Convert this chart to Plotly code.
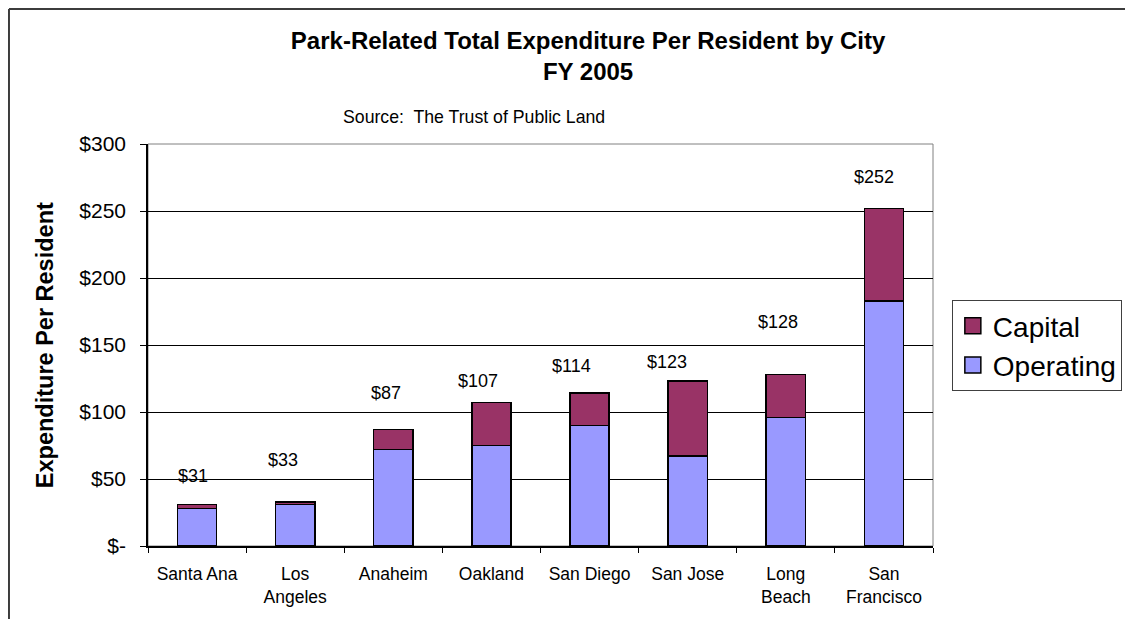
import plotly.graph_objects as go

cities = ["Santa Ana", "Los<br>Angeles", "Anaheim", "Oakland", "San Diego", "San Jose", "Long<br>Beach", "San<br>Francisco"]
operating = [28, 31, 72, 75, 90, 67, 96, 183]
capital = [3, 2, 15, 32, 24, 56, 32, 69]
totals = [31, 33, 87, 107, 114, 123, 128, 252]
y_ticks = [0, 50, 100, 150, 200, 250, 300]
y_tick_labels = ["$-", "$50", "$100", "$150", "$200", "$250", "$300"]

# label offsets in pixels (style only)
label_dx = [-4, -12, -7, -13, -18, -21, -8, -10]
label_dy = [28, 42, 36, 22, 27, 19, 52, 31]

OP_COLOR = "#9999FF"
CAP_COLOR = "#993366"
FONT = "Arial, Liberation Sans, sans-serif"

fig = go.Figure()
fig.add_trace(go.Bar(x=cities, y=operating, name="Operating", marker=dict(color=OP_COLOR, line=dict(color="black", width=1.5)), showlegend=False))
fig.add_trace(go.Bar(x=cities, y=capital, name="Capital", marker=dict(color=CAP_COLOR, line=dict(color="black", width=1.5)), showlegend=False))
# legend entries
fig.add_trace(go.Scatter(x=[None], y=[None], mode="markers", name="Capital",
                         marker=dict(symbol="square", size=16, color=CAP_COLOR, line=dict(color="black", width=1.5)), legendgroup="a"))
fig.add_trace(go.Scatter(x=[None], y=[None], mode="markers", name="Operating",
                         marker=dict(symbol="square", size=16, color=OP_COLOR, line=dict(color="black", width=1.5)), legendgroup="b"))

annotations = []
for c, t, dx, dy in zip(cities, totals, label_dx, label_dy):
    annotations.append(dict(x=c, y=t, xref="x", yref="y", text=f"${t}", showarrow=False,
                            xshift=dx, yshift=dy, xanchor="center", yanchor="middle",
                            font=dict(family=FONT, size=18, color="black")))
annotations.append(dict(x=0.415, y=1.067, xref="paper", yref="paper", text="Source:  The Trust of Public Land",
                        showarrow=False, xanchor="center", yanchor="middle",
                        font=dict(family=FONT, size=17.7, color="black")))
annotations.append(dict(x=-0.131, y=0.5, xref="paper", yref="paper", text="<b>Expenditure Per Resident</b>",
                        textangle=-90, showarrow=False, xanchor="center", yanchor="middle",
                        font=dict(family=FONT, size=23.5, color="black")))

fig.update_layout(
    width=1117, height=611,
    margin=dict(l=140, r=192, t=136, b=73, autoexpand=False),
    paper_bgcolor="white", plot_bgcolor="white",
    barmode="stack", bargap=0.6,
    font=dict(family=FONT, color="black"),
    title=dict(text="<b>Park-Related Total Expenditure Per Resident by City<br>FY 2005</b>",
               x=0.5193, xanchor="center", y=0.933, yanchor="middle",
               font=dict(family=FONT, size=24, color="black")),
    legend=dict(x=1.024, y=0.612, xanchor="left", yanchor="top", traceorder="normal",
                bordercolor="#404040", borderwidth=1, bgcolor="white",
                font=dict(family=FONT, size=28, color="black"), tracegroupgap=3),
    annotations=annotations,
    shapes=[
        dict(type="rect", xref="paper", yref="paper", x0=0, x1=1, y0=0, y1=1,
             line=dict(color="#808080", width=1), layer="below"),
        dict(type="line", xref="paper", yref="paper", x0=-0.1771, x1=1.3, y0=1.3358, y1=1.3358,
             line=dict(color="#3c3c3c", width=2)),
        dict(type="line", xref="paper", yref="paper", x0=-0.1771, x1=-0.1771, y0=-0.3, y1=1.3358,
             line=dict(color="#3c3c3c", width=2)),
    ],
)
fig.update_yaxes(range=[0, 300], tickvals=y_ticks, ticktext=y_tick_labels,
                 showgrid=True, gridcolor="black", gridwidth=1,
                 showline=True, linecolor="black", linewidth=1.5,
                 ticks="outside", ticklen=6, tickcolor="black", ticklabelstandoff=10,
                 tickfont=dict(family=FONT, size=21, color="black"), zeroline=False)
fig.update_xaxes(showline=True, linecolor="black", linewidth=1.5,
                 ticks="outside", ticklen=5, tickcolor="black", tickson="boundaries",
                 ticklabelstandoff=11,
                 tickfont=dict(family=FONT, size=17.5, color="black"), showgrid=False)

fig.write_html("out.html")
